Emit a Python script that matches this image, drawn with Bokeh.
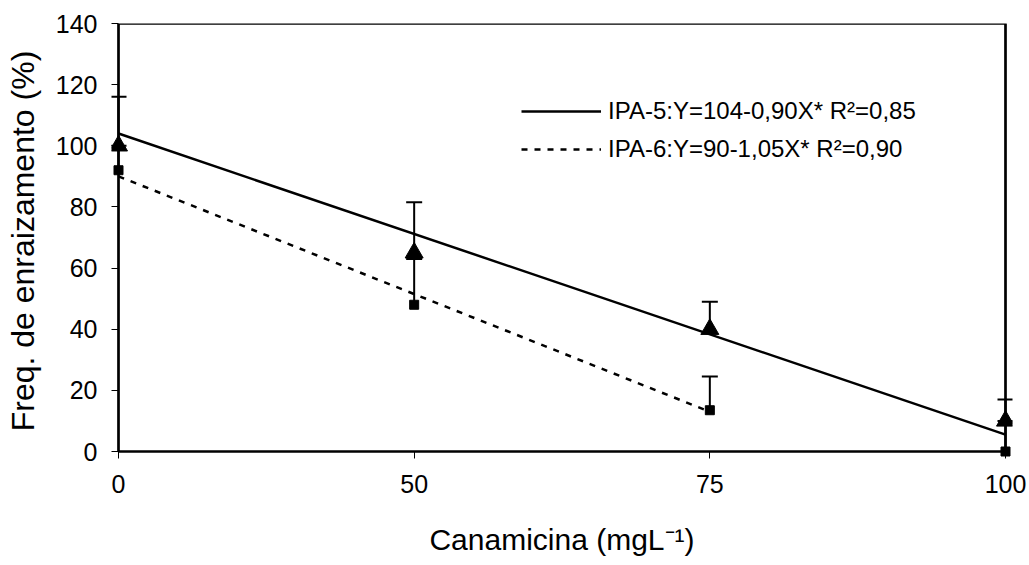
from bokeh.plotting import figure
from bokeh.models import FixedTicker, Range1d, BoxAnnotation, Legend, LegendItem
from bokeh.embed import file_html
from bokeh.resources import INLINE

# ---- data ----
categories = ["0", "50", "75", "100"]            # Canamicina (mg/L), equally spaced categories
ipa5 = [100, 65, 40, 10]                          # IPA-5 means (triangles)
ipa5_upper = [116, 81.5, 49, 17]                  # IPA-5 upper error-bar ends
ipa6 = [92, 48, 13.5, 0]                          # IPA-6 means (squares)
ipa6_upper = [100, 63, 24.5, 10]                  # IPA-6 upper error-bar ends
trend5_cat = ["0", "100"]                         # IPA-5 fitted line ends
trend5_y = [104, 5.5]
trend6_cat = ["0", "75"]                          # IPA-6 fitted line ends
trend6_y = [90, 13]
y_ticks = [0, 20, 40, 60, 80, 100, 120, 140]
label5 = "IPA-5:Y=104-0,90X* R²=0,85"
label6 = "IPA-6:Y=90-1,05X* R²=0,90"
x_title = "Canamicina (mgL⁻¹)"
y_title = "Freq. de enraizamento (%)"

FONT = "Liberation Sans"
W, H = 1029, 565
box_left, box_right, box_top, box_bottom = 118, 1005, 23, 451
tick = 7
n = len(categories)
px_x = (box_right - box_left) / (n - 1)
px_y = (box_bottom - box_top) / 140.0

xs = list(range(n))
pos = {c: i for i, c in enumerate(categories)}

p = figure(width=W, height=H, output_backend="svg", toolbar_location=None,
           x_range=Range1d(-tick / px_x, (n - 1) + tick / px_x),
           y_range=Range1d(-tick / px_y, 140),
           min_border_left=box_left - tick, min_border_right=W - (box_right + tick),
           min_border_top=box_top, min_border_bottom=H - (box_bottom + tick))
p.outline_line_color = None
p.grid.visible = False
p.background_fill_color = "white"
p.border_fill_color = "white"

# frame box
p.add_layout(BoxAnnotation(left=0, right=n - 1, bottom=0, top=140, fill_alpha=0,
                           line_color="black", line_alpha=1, line_width=2.7,
                           level="underlay"))

# axes (sit at the padded frame edge; ticks reach inward to the box)
for ax in (p.xaxis[0], p.yaxis[0]):
    ax.axis_line_color = None
    ax.major_tick_in = tick
    ax.major_tick_out = 0
    ax.major_tick_line_color = "black"
    ax.major_tick_line_width = 1
    ax.minor_tick_line_color = None
    ax.major_label_text_font = FONT
    ax.major_label_text_font_size = "25px"
    ax.major_label_text_color = "black"
    ax.axis_label_text_font = FONT
    ax.axis_label_text_font_style = "normal"
    ax.axis_label_text_color = "black"

p.xaxis[0].ticker = FixedTicker(ticks=xs)
p.xaxis[0].major_label_overrides = {i: c for i, c in enumerate(categories)}
p.xaxis[0].major_label_standoff = 16
p.xaxis[0].axis_label = x_title
p.xaxis[0].axis_label_text_font_size = "30px"
p.xaxis[0].axis_label_standoff = 27
p.yaxis[0].ticker = FixedTicker(ticks=y_ticks)
p.yaxis[0].major_label_standoff = 14
p.yaxis[0].axis_label = y_title
p.yaxis[0].axis_label_text_font_size = "32px"
p.yaxis[0].axis_label_standoff = 12

# trend lines
r5 = p.line([pos[c] for c in trend5_cat], trend5_y, line_color="black", line_width=2.5)
r6 = p.line([pos[c] for c in trend6_cat], trend6_y, line_color="black", line_width=2.5,
            line_dash="6 7")

# error bars (stems + caps)
p.segment(xs, ipa6, xs, ipa6_upper, line_color="black", line_width=2)
p.scatter(xs, ipa6_upper, marker="dash", size=16, line_color="black", line_width=2)
p.segment(xs, ipa5, xs, ipa5_upper, line_color="black", line_width=2)
p.scatter(xs, ipa5_upper, marker="dash", size=16, line_color="black", line_width=2)

# markers
p.scatter(xs, ipa6, marker="square", size=9, fill_color="black", line_color="black")
p.scatter(xs, ipa5, marker="triangle", size=18, fill_color="black", line_color="black")

legend = Legend(items=[LegendItem(label=label5, renderers=[r5]),
                       LegendItem(label=label6, renderers=[r6])],
                location=(521 - (box_left - tick), (box_bottom + tick) - 164),
                glyph_width=80, glyph_height=30, label_height=30, spacing=8,
                label_standoff=7, padding=0, margin=0,
                border_line_alpha=0, background_fill_alpha=0,
                label_text_font=FONT, label_text_font_size="24px", label_text_color="black")
p.add_layout(legend, "center")

open("out.html", "w").write(file_html(p, INLINE))
